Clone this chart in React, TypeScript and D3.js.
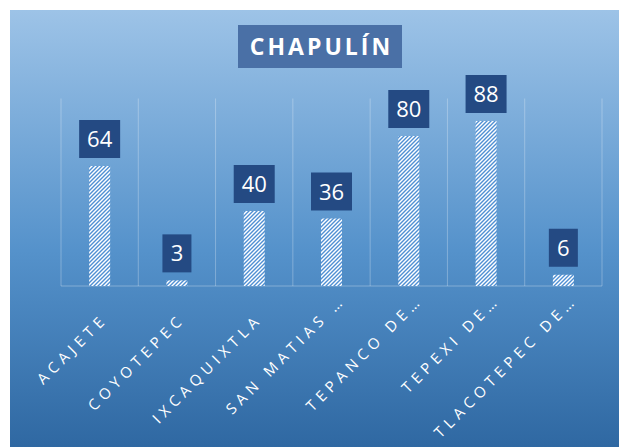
import { useEffect, useRef } from 'react';
import * as d3 from 'd3';

// Data
const categories = [
  'ACAJETE',
  'COYOTEPEC',
  'IXCAQUIXTLA',
  'SAN MATIAS …',
  'TEPANCO DE…',
  'TEPEXI DE…',
  'TLACOTEPEC DE…',
];
const values = [64, 3, 40, 36, 80, 88, 6];
const title = 'CHAPULÍN';

export default function App() {
  const svgRef = useRef<SVGSVGElement | null>(null);

  useEffect(() => {
    if (!svgRef.current) return;
    const width = 619;
    const height = 447;

    const svg = d3.select(svgRef.current);
    svg.selectAll('*').remove();
    svg.attr('width', width).attr('height', height);

    const defs = svg.append('defs');

    // background gradient
    const grad = defs
      .append('linearGradient')
      .attr('id', 'bg')
      .attr('x1', 0)
      .attr('y1', 0)
      .attr('x2', 0)
      .attr('y2', 1);
    grad.append('stop').attr('offset', '0%').attr('stop-color', '#9DC3E7');
    grad.append('stop').attr('offset', '55%').attr('stop-color', '#5592CB');
    grad.append('stop').attr('offset', '100%').attr('stop-color', '#2F68A2');

    // diagonal hatch for bars
    const pat = defs
      .append('pattern')
      .attr('id', 'hatch')
      .attr('patternUnits', 'userSpaceOnUse')
      .attr('width', 4)
      .attr('height', 4);
    pat.append('rect').attr('width', 4).attr('height', 4).attr('fill', '#ffffff');
    pat
      .append('path')
      .attr('d', 'M-1,1 l2,-2 M0,4 l4,-4 M3,5 l2,-2')
      .attr('stroke', '#4F8FD3')
      .attr('stroke-width', 1.4);

    svg
      .append('rect')
      .attr('x', 10)
      .attr('y', 10)
      .attr('width', width - 10)
      .attr('height', height - 10)
      .attr('fill', 'url(#bg)');

    const x = d3.scaleBand<string>().domain(categories).range([61, 602]).padding(0);
    const y = d3.scaleLinear().domain([0, 100]).range([286, 98.5]);

    // vertical gridlines at category boundaries
    const bounds = categories.map((c) => x(c) as number).concat([602]);
    svg
      .append('g')
      .selectAll('line')
      .data(bounds)
      .join('line')
      .attr('x1', (d) => d)
      .attr('x2', (d) => d)
      .attr('y1', y(100))
      .attr('y2', y(0))
      .attr('stroke', 'rgba(255,255,255,0.28)')
      .attr('stroke-width', 1);

    // baseline
    svg
      .append('line')
      .attr('x1', 61)
      .attr('x2', 602)
      .attr('y1', y(0))
      .attr('y2', y(0))
      .attr('stroke', 'rgba(255,255,255,0.3)')
      .attr('stroke-width', 1.2);

    const barW = 21;
    const data = categories.map((c, i) => ({ c, v: values[i] }));

    svg
      .append('g')
      .selectAll('rect')
      .data(data)
      .join('rect')
      .attr('x', (d) => (x(d.c) as number) + x.bandwidth() / 2 - barW / 2)
      .attr('y', (d) => y(d.v))
      .attr('width', barW)
      .attr('height', (d) => y(0) - y(d.v))
      .attr('fill', 'url(#hatch)');

    // value labels in dark boxes
    const lbl = svg
      .append('g')
      .selectAll('g')
      .data(data)
      .join('g')
      .attr('transform', (d) => `translate(${(x(d.c) as number) + x.bandwidth() / 2},${y(d.v) - 8})`);
    lbl
      .append('rect')
      .attr('x', (d) => (String(d.v).length > 1 ? -20.5 : -14.5))
      .attr('y', -38)
      .attr('width', (d) => (String(d.v).length > 1 ? 41 : 29))
      .attr('height', 38)
      .attr('fill', '#244A83');
    lbl
      .append('text')
      .attr('y', -11)
      .attr('text-anchor', 'middle')
      .attr('fill', '#ffffff')
      .attr('font-family', "'Open Sans', sans-serif")
      .attr('font-size', '22px')
      .text((d) => d.v);

    // category labels rotated -45
    svg
      .append('g')
      .selectAll('text')
      .data(categories)
      .join('text')
      .attr('transform', (d) => {
        const cx = (x(d) as number) + x.bandwidth() / 2;
        const cut = d.endsWith('…');
        return `translate(${cx + (cut ? 15 : 9)},${cut ? 301 : 320}) rotate(-45)`;
      })
      .attr('text-anchor', 'end')
      .attr('fill', '#ffffff')
      .attr('font-family', "'Open Sans', sans-serif")
      .attr('font-size', '15px')
      .attr('letter-spacing', '5px')
      .text((d) => d);

    // title
    const tg = svg.append('g');
    tg.append('rect')
      .attr('x', 238)
      .attr('y', 25)
      .attr('width', 164)
      .attr('height', 43)
      .attr('fill', '#4A70A6');
    tg.append('text')
      .attr('x', 320 + 1.5)
      .attr('y', 55)
      .attr('text-anchor', 'middle')
      .attr('fill', '#ffffff')
      .attr('font-family', "'Open Sans', sans-serif")
      .attr('font-weight', 700)
      .attr('font-size', '23px')
      .attr('letter-spacing', '3px')
      .text(title);
  }, []);

  return <svg ref={svgRef} style={{ position: 'absolute', left: 0, top: 0 }} />;
}
